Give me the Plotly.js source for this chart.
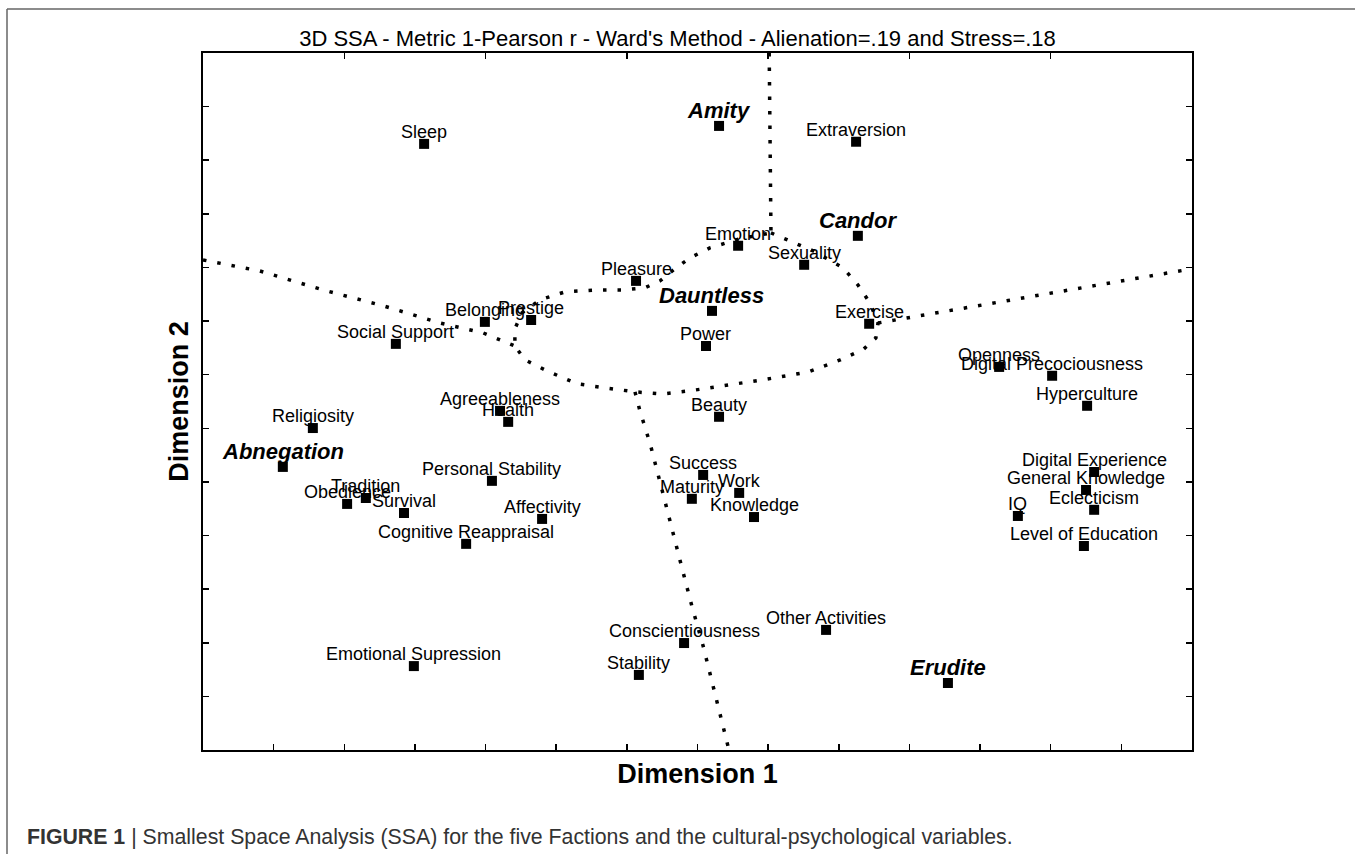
<!DOCTYPE html>
<html>
<head>
<meta charset="utf-8">
<script src="https://cdn.plot.ly/plotly-3.0.1.min.js"></script>
<style>html,body{margin:0;padding:0;background:#fff;}#chart{width:1355px;height:854px;}</style>
</head>
<body>
<div id="chart"></div>
<script>
// Variables (Dimension 1, Dimension 2)
const varNames = ["Sleep","Extraversion","Emotion","Sexuality","Pleasure","Belonging","Prestige","Exercise","Power","Social Support","Openness","Digital Precociousness","Hyperculture","Beauty","Agreeableness","Health","Religiosity","Personal Stability","Success","Digital Experience","General Knowledge","Work","Maturity","Tradition","Obedience","Survival","Eclecticism","IQ","Affectivity","Knowledge","Cognitive Reappraisal","Level of Education","Other Activities","Conscientiousness","Emotional Supression","Stability"];
const varDim1 = [-0.774,0.449,0.115,0.302,-0.174,-0.602,-0.471,0.486,0.024,-0.854,0.854,1.004,1.103,0.061,-0.559,-0.536,-1.089,-0.582,0.016,1.123,1.100,0.118,-0.016,-0.939,-0.992,-0.831,1.123,0.907,-0.440,0.160,-0.655,1.094,0.364,-0.038,-0.803,-0.166];
const varDim2 = [0.961,0.969,0.581,0.510,0.450,0.297,0.304,0.290,0.207,0.215,0.129,0.096,-0.016,-0.057,-0.035,-0.076,-0.099,-0.296,-0.274,-0.263,-0.330,-0.341,-0.363,-0.360,-0.382,-0.416,-0.404,-0.427,-0.438,-0.431,-0.531,-0.539,-0.852,-0.901,-0.987,-1.020];

// Factions
const factionNames = ["Amity","Candor","Dauntless","Abnegation","Erudite"];
const factionDim1 = [0.061,0.454,0.041,-1.174,0.709];
const factionDim2 = [1.028,0.618,0.338,-0.244,-1.050];

// Region boundaries (dotted)
const topBoundX = [0.203,0.205,0.208];
const topBoundY = [1.300,0.972,0.629];
const loopX = [0.208,0.248,0.327,0.412,0.454,0.488,0.511,0.505,0.471,0.404,0.313,0.185,0.069,-0.021,-0.100,-0.177,-0.262,-0.341,-0.426,-0.488,-0.517,-0.517,-0.497,-0.446,-0.375,-0.290,-0.211,-0.149,-0.106,-0.064,-0.021,0.035,0.120,0.208];
const loopY = [0.629,0.607,0.562,0.499,0.435,0.368,0.293,0.237,0.196,0.155,0.110,0.081,0.058,0.040,0.028,0.036,0.051,0.066,0.114,0.155,0.207,0.271,0.331,0.379,0.409,0.416,0.416,0.424,0.450,0.495,0.536,0.573,0.607,0.629];
const leftBoundX = [-1.400,-1.239,-1.060,-0.890,-0.729,-0.607,-0.517];
const leftBoundY = [0.528,0.487,0.416,0.357,0.293,0.256,0.207];
const rightBoundX = [0.511,0.956,1.400];
const rightBoundY = [0.293,0.394,0.495];
const bottomBoundX = [-0.177,-0.163,-0.134,-0.106,-0.083,-0.049,-0.016,0.016,0.047,0.089];
const bottomBoundY = [0.036,-0.035,-0.158,-0.307,-0.419,-0.595,-0.763,-0.912,-1.080,-1.300];

const FONT = "Liberation Sans, Arial, Helvetica, sans-serif";
const dotLine = {color:"#000", width:3.5, dash:"3.5px,11px"};
function bound(x,y){return {x:x,y:y,mode:"lines",line:dotLine,hoverinfo:"skip",showlegend:false,type:"scatter"};}

const traces = [
  bound(topBoundX,topBoundY), bound(loopX,loopY), bound(leftBoundX,leftBoundY),
  bound(rightBoundX,rightBoundY), bound(bottomBoundX,bottomBoundY),
  {x:varDim1,y:varDim2,mode:"markers",type:"scatter",marker:{symbol:"square",size:10,color:"#000"},text:varNames,showlegend:false},
  {x:factionDim1,y:factionDim2,mode:"markers",type:"scatter",marker:{symbol:"square",size:10,color:"#000"},text:factionNames,showlegend:false},
  {x:[],y:[],xaxis:"x2",yaxis:"y",type:"scatter",showlegend:false}
];

const annotations = [];
varNames.forEach((n,i)=>annotations.push({x:varDim1[i],y:varDim2[i],text:n,showarrow:false,xanchor:"center",yanchor:"middle",yshift:12,font:{family:FONT,size:18,color:"#000"}}));
factionNames.forEach((n,i)=>annotations.push({x:factionDim1[i],y:factionDim2[i],text:"<b><i>"+n+"</i></b>",showarrow:false,xanchor:"center",yanchor:"middle",yshift:15,font:{family:FONT,size:22,color:"#000"}}));
annotations.push({xref:"paper",yref:"paper",x:-0.180,y:-0.1248,xanchor:"left",yanchor:"middle",showarrow:false,
  text:"<b>FIGURE 1</b> | Smallest Space Analysis (SSA) for the five Factions and the cultural-psychological variables.",
  font:{family:FONT,size:21.3,color:"#333"}});

const layout = {
  width:1355,height:854,
  margin:{l:203,r:163,t:53,b:104,pad:0},
  paper_bgcolor:"#fff",plot_bgcolor:"#fff",
  font:{family:FONT,color:"#000"},
  title:{text:"3D SSA - Metric 1-Pearson r - Ward's Method - Alienation=.19 and Stress=.18",font:{family:FONT,size:22,color:"#000"},x:0.4798,xref:"paper",xanchor:"center",y:1-38/854,yref:"container",yanchor:"middle"},
  xaxis:{range:[-1.4,1.4],tick0:-1.4,dtick:0.2,ticks:"inside",ticklen:6,tickwidth:1.5,tickcolor:"#000",showticklabels:false,showgrid:false,zeroline:false,showline:true,linecolor:"#000",linewidth:2,mirror:true,
    title:{text:"<b>Dimension 1</b>",font:{family:FONT,size:27,color:"#000"},standoff:13}},
  xaxis2:{range:[-1.4,1.4],overlaying:"x",side:"top",anchor:"y",tick0:-1.0,dtick:0.4,ticks:"inside",ticklen:6,tickwidth:1.5,tickcolor:"#000",showticklabels:false,showgrid:false,zeroline:false,showline:false},
  yaxis:{range:[-1.3,1.3],tick0:-1.3,dtick:0.2,ticks:"inside",ticklen:6,tickwidth:1.5,tickcolor:"#000",showticklabels:false,showgrid:false,zeroline:false,showline:true,linecolor:"#000",linewidth:2,mirror:"ticks",
    title:{text:"<b>Dimension 2</b>",font:{family:FONT,size:27,color:"#000"},standoff:5}},
  annotations:annotations,
  shapes:[
    {type:"line",xref:"paper",yref:"paper",x0:(7-203)/989,x1:(1360-203)/989,y0:(750-9)/697,y1:(750-9)/697,line:{color:"#666",width:1.5}},
    {type:"line",xref:"paper",yref:"paper",x0:(7-203)/989,x1:(7-203)/989,y0:(750-9)/697,y1:(750-860)/697,line:{color:"#666",width:1.5}}
  ],
  showlegend:false
};
Plotly.newPlot("chart",traces,layout,{staticPlot:true,displayModeBar:false});
</script>
</body>
</html>
